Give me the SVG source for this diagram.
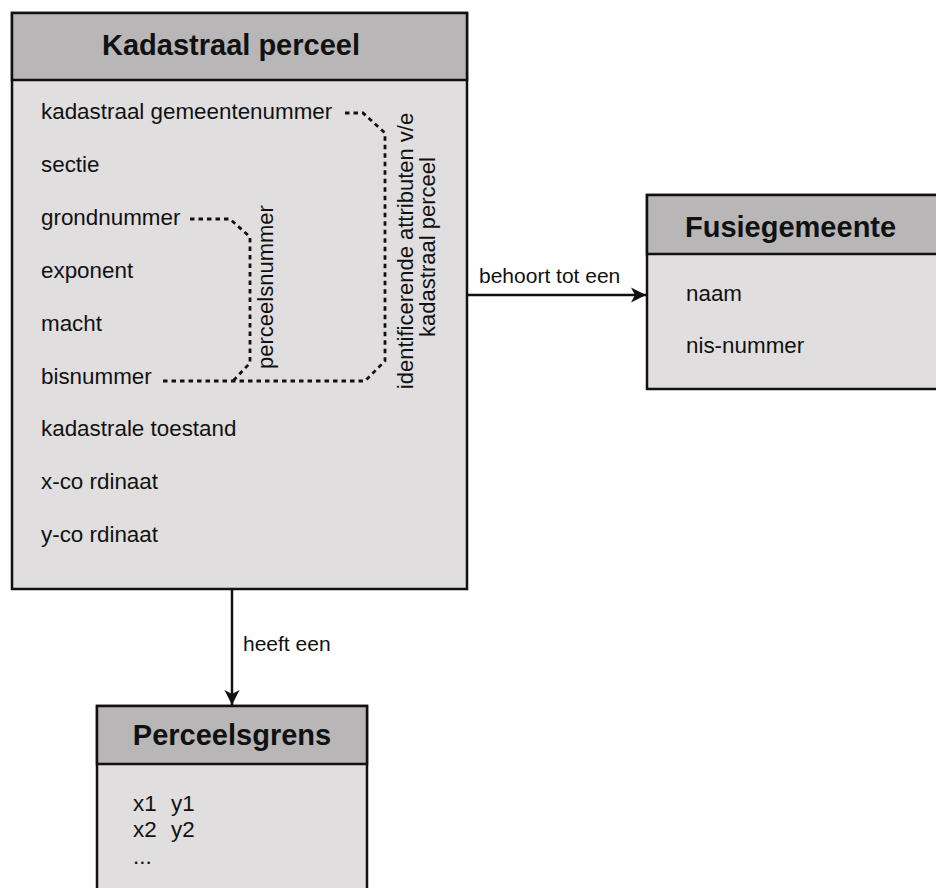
<svg xmlns="http://www.w3.org/2000/svg" width="936" height="888" viewBox="0 0 936 888">
  <style>
    .hdr { fill: #b8b6b7; stroke: #111; stroke-width: 2.5; }
    .body { fill: #e0dedf; stroke: #111; stroke-width: 2.5; }
    .title { font-family: "Liberation Sans", Arial, sans-serif; font-weight: bold; font-size: 29px; fill: #111; }
    .txt { font-family: "Liberation Sans", Arial, sans-serif; font-size: 22.4px; fill: #111; }
    .rot { font-family: "Liberation Sans", Arial, sans-serif; font-size: 22px; fill: #111; }
    .lbl { font-family: "Liberation Sans", Arial, sans-serif; font-size: 21px; fill: #111; }
    .edge { fill: none; stroke: #111; stroke-width: 2.5; }
    .dot { fill: none; stroke: #111; stroke-width: 2.8; stroke-dasharray: 4.5 4; }
  </style>
  <defs>
    <marker id="arr" viewBox="0 0 16 16" refX="15" refY="8" markerWidth="16" markerHeight="16" markerUnits="userSpaceOnUse" orient="auto">
      <path d="M15,8 L0,0.5 L4,8 L0,15.5 Z" fill="#111"/>
    </marker>
  </defs>

  <rect width="936" height="888" fill="#ffffff"/>

  <g id="connectors">
    <path class="edge" d="M467,295 L646,295" marker-end="url(#arr)"/>
    <text class="lbl" x="479" y="283">behoort tot een</text>
    <path class="edge" d="M232,589 L232,705" marker-end="url(#arr)"/>
    <text class="lbl" x="243" y="651">heeft een</text>
  </g>

  <g id="kadastraal-perceel">
    <rect class="body" x="12" y="13" width="455" height="576"/>
    <rect class="hdr" x="12" y="13" width="455" height="67"/>
    <text class="title" x="231" y="55" text-anchor="middle">Kadastraal perceel</text>
    <text class="txt" x="41" y="119">kadastraal gemeentenummer</text>
    <text class="txt" x="41" y="172">sectie</text>
    <text class="txt" x="41" y="225">grondnummer</text>
    <text class="txt" x="41" y="278">exponent</text>
    <text class="txt" x="41" y="331">macht</text>
    <text class="txt" x="41" y="384">bisnummer</text>
    <text class="txt" x="41" y="436">kadastrale toestand</text>
    <text class="txt" x="41" y="489">x-co rdinaat</text>
    <text class="txt" x="41" y="542">y-co rdinaat</text>
    <path class="dot" d="M345,113 L363,113 L385,133 L385,361 L365,381 L160,381"/>
    <path class="dot" d="M190,219 L230,219 L250,237 L250,363 L233,381"/>
    <text class="rot" transform="translate(273,287) rotate(-90)" text-anchor="middle">perceelsnummer</text>
    <text class="rot" transform="translate(413,251) rotate(-90)" text-anchor="middle">identificerende attributen v/e</text>
    <text class="rot" transform="translate(435,247) rotate(-90)" text-anchor="middle">kadastraal perceel</text>
  </g>

  <g id="fusiegemeente">
    <rect class="body" x="647" y="195" width="300" height="194"/>
    <rect class="hdr" x="647" y="195" width="300" height="59"/>
    <text class="title" x="685" y="237">Fusiegemeente</text>
    <text class="txt" x="686" y="301">naam</text>
    <text class="txt" x="686" y="353">nis-nummer</text>
  </g>

  <g id="perceelsgrens">
    <rect class="body" x="97" y="706" width="270" height="200"/>
    <rect class="hdr" x="97" y="706" width="270" height="58"/>
    <text class="title" x="232" y="745" text-anchor="middle">Perceelsgrens</text>
    <text class="txt" x="133" y="811" xml:space="preserve">x1  <tspan dx="2">y1</tspan></text>
    <text class="txt" x="133" y="837" xml:space="preserve">x2  <tspan dx="2">y2</tspan></text>
    <text class="txt" x="133" y="864">...</text>
  </g>
</svg>
